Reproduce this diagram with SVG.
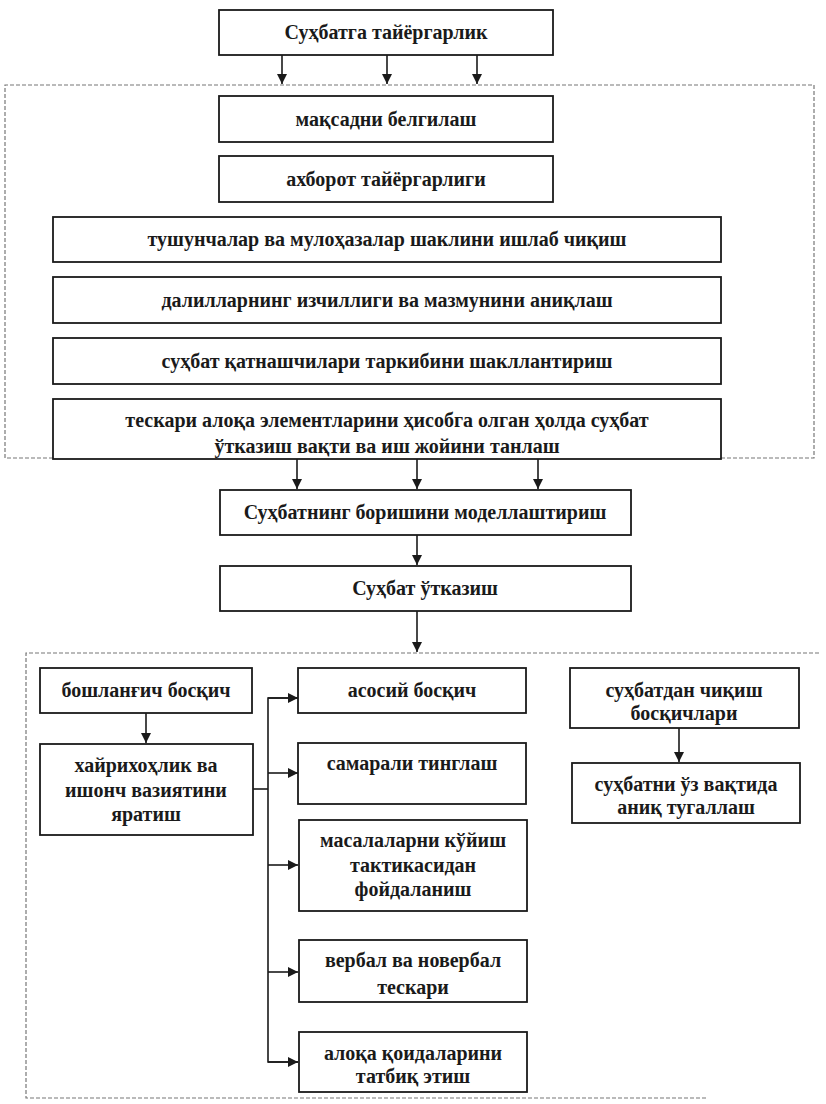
<svg xmlns="http://www.w3.org/2000/svg" width="826" height="1104" viewBox="0 0 826 1104">
<style>
.box{fill:#fff;stroke:#1a1a1a;stroke-width:1.8}
text{font-family:'Liberation Serif','Times New Roman','DejaVu Serif',serif;font-size:20px;font-weight:600;fill:#1a1a1a;text-anchor:middle}
.c{stroke:#1a1a1a;stroke-width:1.6;fill:none}
.panel{fill:none;stroke:#777;stroke-width:1.2;stroke-dasharray:4 2}
</style>
<defs>
<marker id="ah" viewBox="0 0 10 10" refX="10" refY="5" markerWidth="10" markerHeight="10" markerUnits="userSpaceOnUse" orient="auto">
<path d="M0,0 L10,5 L0,10 Z" fill="#1a1a1a"/>
</marker>
</defs>
<rect width="826" height="1104" fill="#fff"/>
<g id="panels">
<path class="panel" d="M5,458 V85 H814 V458 H5"/>
<path class="panel" d="M706,1098 H26 V653 H820"/>
</g>
<g id="connectors">
<line class="c" x1="282" y1="55" x2="282" y2="84" marker-end="url(#ah)"/>
<line class="c" x1="387" y1="55" x2="387" y2="84" marker-end="url(#ah)"/>
<line class="c" x1="477" y1="55" x2="477" y2="84" marker-end="url(#ah)"/>
<line class="c" x1="297" y1="459" x2="297" y2="489" marker-end="url(#ah)"/>
<line class="c" x1="417" y1="459" x2="417" y2="489" marker-end="url(#ah)"/>
<line class="c" x1="538" y1="459" x2="538" y2="489" marker-end="url(#ah)"/>
<line class="c" x1="417" y1="535" x2="417" y2="565" marker-end="url(#ah)"/>
<line class="c" x1="417" y1="611" x2="417" y2="652" marker-end="url(#ah)"/>
<line class="c" x1="146" y1="713" x2="146" y2="743" marker-end="url(#ah)"/>
<line class="c" x1="253" y1="789" x2="268" y2="789"/>
<path class="c" d="M298,698 H268 V1062 H298"/>
<line class="c" x1="268" y1="698" x2="298" y2="698" marker-end="url(#ah)"/>
<line class="c" x1="268" y1="773" x2="298" y2="773" marker-end="url(#ah)"/>
<line class="c" x1="268" y1="865" x2="298" y2="865" marker-end="url(#ah)"/>
<line class="c" x1="268" y1="972" x2="298" y2="972" marker-end="url(#ah)"/>
<line class="c" x1="268" y1="1062" x2="298" y2="1062" marker-end="url(#ah)"/>
<line class="c" x1="679" y1="728" x2="679" y2="762" marker-end="url(#ah)"/>
</g>
<g id="n1"><rect class="box" x="219" y="10" width="334" height="45"/><text x="386" y="39">Суҳбатга тайёргарлик</text></g>
<g id="n2"><rect class="box" x="219" y="96" width="334" height="46"/><text x="386" y="126">мақсадни белгилаш</text></g>
<g id="n3"><rect class="box" x="219" y="156" width="334" height="46"/><text x="386" y="186">ахборот тайёргарлиги</text></g>
<g id="n4"><rect class="box" x="53" y="217" width="668" height="45"/><text x="387" y="246">тушунчалар ва мулоҳазалар шаклини ишлаб чиқиш</text></g>
<g id="n5"><rect class="box" x="53" y="277" width="668" height="46"/><text x="387" y="307">далилларнинг изчиллиги ва мазмунини аниқлаш</text></g>
<g id="n6"><rect class="box" x="53" y="338" width="668" height="46"/><text x="387" y="368">суҳбат қатнашчилари таркибини шакллантириш</text></g>
<g id="n7"><rect class="box" x="53" y="399" width="668" height="60"/><text x="387" y="427">тескари алоқа элементларини ҳисобга олган ҳолда суҳбат</text><text x="387" y="453">ўтказиш вақти ва иш жойини танлаш</text></g>
<g id="n8"><rect class="box" x="220" y="490" width="411" height="45"/><text x="425" y="519">Суҳбатнинг боришини моделлаштириш</text></g>
<g id="n9"><rect class="box" x="220" y="566" width="411" height="45"/><text x="425" y="595">Суҳбат ўтказиш</text></g>
<g id="n10"><rect class="box" x="40" y="668" width="212" height="45"/><text x="146" y="697">бошланғич босқич</text></g>
<g id="n11"><rect class="box" x="40" y="744" width="213" height="91"/><text x="146" y="772">хайрихоҳлик ва</text><text x="146" y="797">ишонч вазиятини</text><text x="146" y="821">яратиш</text></g>
<g id="n12"><rect class="box" x="298" y="668" width="228" height="45"/><text x="412" y="697">асосий босқич</text></g>
<g id="n13"><rect class="box" x="298" y="743" width="228" height="61"/><text x="412" y="770">самарали тинглаш</text></g>
<g id="n14"><rect class="box" x="299" y="820" width="228" height="91"/><text x="413" y="847">масалаларни кўйиш</text><text x="413" y="872">тактикасидан</text><text x="413" y="896">фойдаланиш</text></g>
<g id="n15"><rect class="box" x="299" y="940" width="228" height="62"/><text x="413" y="967">вербал ва новербал</text><text x="413" y="994">тескари</text></g>
<g id="n16"><rect class="box" x="299" y="1032" width="228" height="60"/><text x="413" y="1060">алоқа қоидаларини</text><text x="413" y="1083">татбиқ этиш</text></g>
<g id="n17"><rect class="box" x="570" y="668" width="229" height="60"/><text x="684" y="697">суҳбатдан чиқиш</text><text x="684" y="720">босқичлари</text></g>
<g id="n18"><rect class="box" x="572" y="763" width="228" height="60"/><text x="686" y="791">суҳбатни ўз вақтида</text><text x="686" y="814">аниқ тугаллаш</text></g>
</svg>
